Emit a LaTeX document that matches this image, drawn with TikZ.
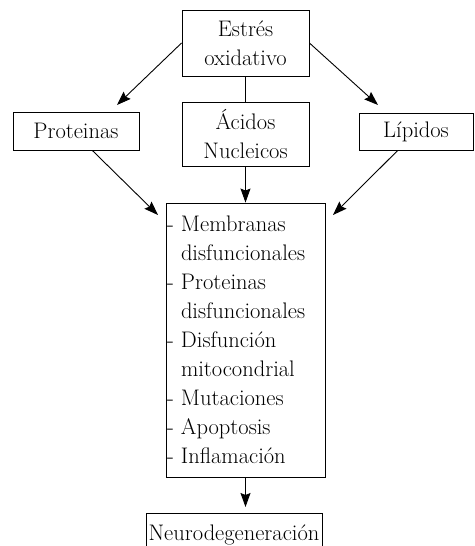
\documentclass[tikz,border=0pt]{standalone}
\usetikzlibrary{arrows.meta}
\newcommand{\guion}{\makebox[14pt][l]{-}}
\newcommand{\sangria}{\hspace*{14pt}}
\tikzset{
  caja/.style={draw, line width=0.9pt, inner sep=0pt, align=center,
    font=\fontsize{22.5}{29}\selectfont},
  flecha/.style={draw, line width=0.9pt, -{Stealth[length=14pt,width=10pt,inset=2pt]}},
  linea/.style={draw, line width=0.9pt}
}
\begin{document}
\begin{tikzpicture}[x=1pt,y=1pt,yscale=-1,xscale=1]
\useasboundingbox (0,0) rectangle (474,546);
\clip (0,0) rectangle (474,546);
%Shape: Rectangle [estres]
\node[caja, minimum width=127, minimum height=66] (estres) at (245.5,43) {Estrés\\oxidativo};
%Shape: Rectangle [acidos]
\node[caja, minimum width=127, minimum height=64] (acidos) at (245.5,134) {Ácidos\\Nucleicos};
%Shape: Rectangle [proteinas]
\node[caja, minimum width=126, minimum height=38] (prot) at (76,131) {Proteinas};
%Shape: Rectangle [lipidos]
\node[caja, minimum width=114, minimum height=37] (lip) at (416,131.5) {Lípidos};
%Shape: Rectangle [efectos]
\node[caja, text width=157pt, inner xsep=1pt, minimum height=274, align=left] (efectos) at (245.5,340)
  {\guion Membranas\\\sangria disfuncionales\\\guion Proteinas\\\sangria disfuncionales\\%
   \guion Disfunción\\\sangria mitocondrial\\\guion Mutaciones\\\guion Apoptosis\\\guion Inflamación};
%Shape: Rectangle [neuro]
\node[caja, anchor=north, minimum width=176, inner ysep=11pt] (neuro) at (234,513) {Neurodegeneración};
%Free ends
\coordinate (puntaP) at (117,105);
\coordinate (puntaL) at (378,105);
\coordinate (puntaEi) at (158,215);
\coordinate (puntaEd) at (333,215);
%Straight Lines
\path[flecha] (estres.west) -- (puntaP);
\path[flecha] (estres.east) -- (puntaL);
\path[linea] (estres.south) -- (acidos.north);
\path[flecha] (acidos.south) -- (efectos.north);
\path[flecha] (prot.-50) -- (puntaEi);
\path[flecha] (lip.-134) -- (puntaEd);
\path[flecha, shorten >=6pt] (efectos.south) -- (efectos.south |- neuro.north);
\end{tikzpicture}
\end{document}
